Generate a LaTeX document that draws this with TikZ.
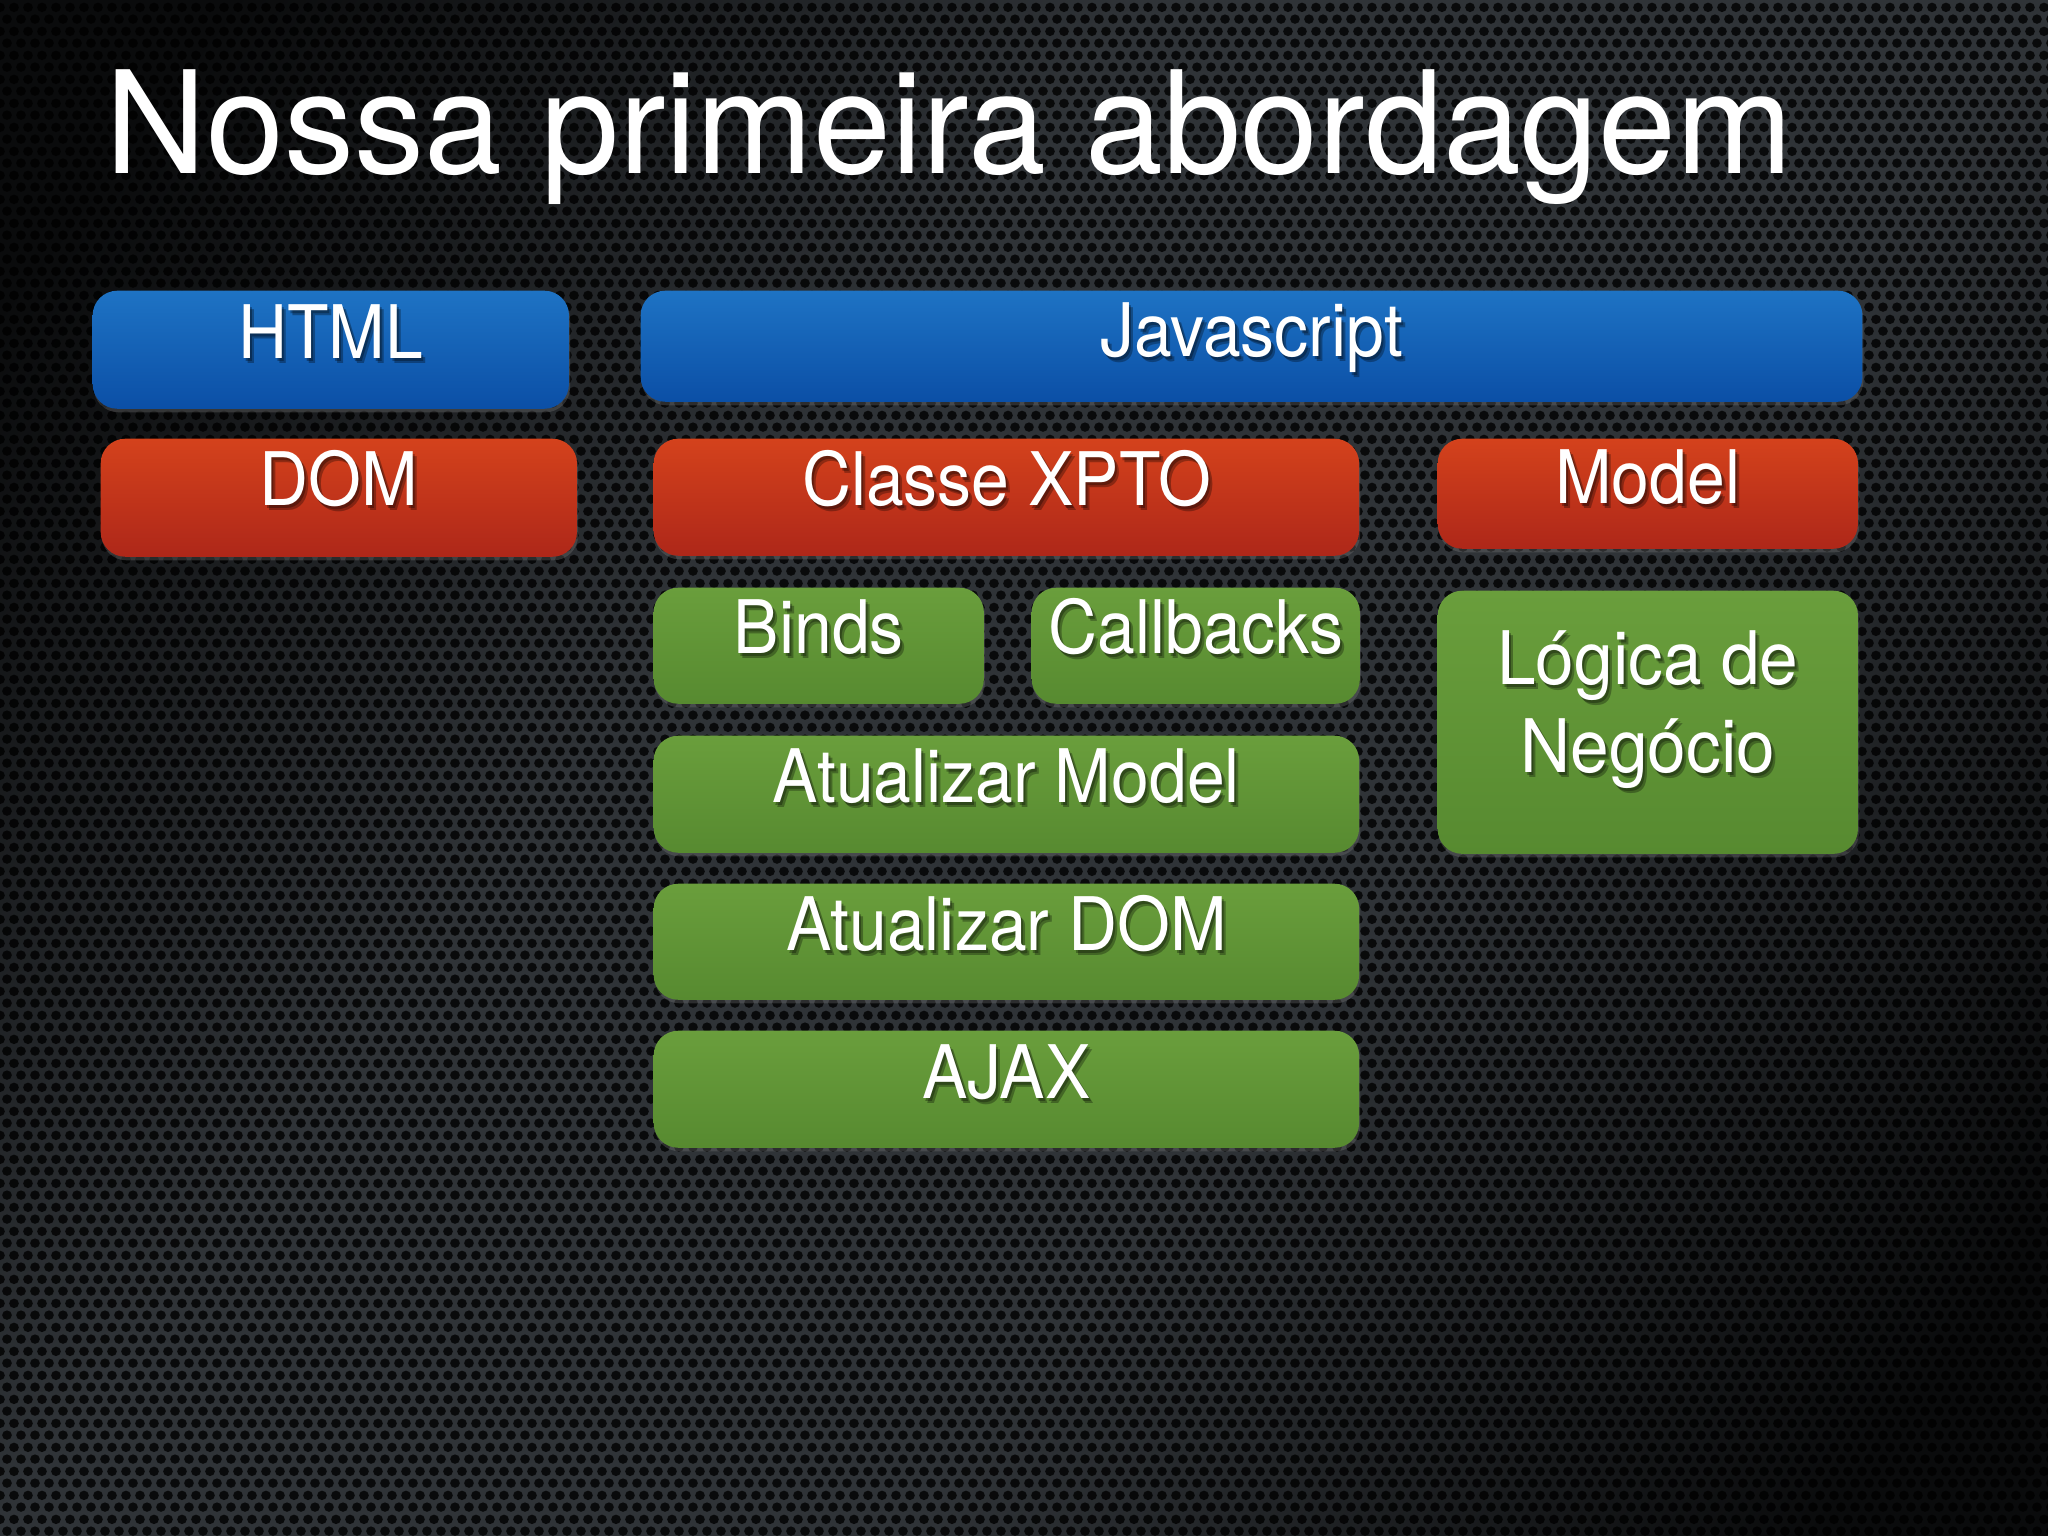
\documentclass[tikz,border=0pt]{standalone}
\usepackage{fontspec}
\setmainfont{TeX Gyre Heros}
\usetikzlibrary{calc,patterns,shadows}
\pgfdeclarepatternformonly{holes}{\pgfqpoint{0pt}{0pt}}{\pgfqpoint{3.98pt}{6.89pt}}{\pgfqpoint{3.98pt}{6.89pt}}{%
  \pgfpathcircle{\pgfqpoint{1.99pt}{1.72pt}}{1.38pt}%
  \pgfpathcircle{\pgfqpoint{0pt}{5.165pt}}{1.38pt}%
  \pgfpathcircle{\pgfqpoint{3.98pt}{5.165pt}}{1.38pt}%
  \pgfusepath{fill}%
}
\definecolor{blueT}{HTML}{1E73C4}
\definecolor{blueB}{HTML}{0B4FA6}
\definecolor{redT}{HTML}{D4421C}
\definecolor{redB}{HTML}{AE2719}
\definecolor{greenT}{HTML}{6A9E3C}
\definecolor{greenB}{HTML}{578A30}
\definecolor{bgMid}{HTML}{2F3337}
\definecolor{bgOut}{HTML}{0A0B0C}
\pgfdeclarehorizontalshading{bgshade}{100bp}{color(0bp)=(bgOut); color(20bp)=(bgOut); color(40bp)=(bgMid); color(60bp)=(bgMid); color(80bp)=(bgOut); color(100bp)=(bgOut)}
\tikzset{
  panel/.style={draw=none, rounded corners=7pt, anchor=north west, inner sep=0pt,
    drop shadow={opacity=0.3, shadow xshift=0.3pt, shadow yshift=-1pt}},
  bluep/.style={panel, top color=blueT, bottom color=blueB},
  redp/.style={panel, top color=redT, bottom color=redB},
  greenp/.style={panel, top color=greenT, bottom color=greenB},
  lbl/.style={text=white, inner sep=0pt, anchor=base, font=\fontsize{21}{25}\selectfont, align=center},
  lblsh/.style={lbl, text=black, text opacity=0.3},
}
\newcommand\boxlabel[4]{%
  \node[lblsh] (#1-s1) at ($(#2.north)+(2,{#3+3})$) {\scalebox{0.92}[1]{#4}};
  \node[lblsh] (#1-s2) at ($(#2.north)+(4,{#3+5})$) {\scalebox{0.92}[1]{#4}};
  \node[lbl] (#1) at ($(#2.north)+(0,#3)$) {\scalebox{0.92}[1]{#4}};
}
\begin{document}
\begin{tikzpicture}[x=0.01cm,y=-0.01cm]
\useasboundingbox (0,0) rectangle (2048,1536);
% background
\shade[shading=bgshade, shading angle=-37] (0,0) rectangle (2048,1536);
\fill[pattern=holes, pattern color=black, fill opacity=0.8] (0,0) rectangle (2048,1536);

% title
\node[anchor=base west, inner sep=0pt, text=white, font=\fontsize{40.5}{48}\selectfont] (title) at (105,173) {\scalebox{0.983}[1]{Nossa primeira abordagem}};

% panels
\node[bluep, minimum width=4.76cm, minimum height=1.18cm] (html) at (92,290) {};
\node[bluep, minimum width=12.21cm, minimum height=1.11cm] (js) at (640,290) {};
\node[redp, minimum width=4.76cm, minimum height=1.18cm] (dom) at (100,438) {};
\node[redp, minimum width=7.05cm, minimum height=1.17cm] (xpto) at (653,438) {};
\node[redp, minimum width=4.20cm, minimum height=1.10cm] (model) at (1437,438) {};
\node[greenp, minimum width=3.30cm, minimum height=1.16cm] (binds) at (653,587) {};
\node[greenp, minimum width=3.28cm, minimum height=1.16cm] (callbacks) at (1031,587) {};
\node[greenp, minimum width=4.20cm, minimum height=2.63cm] (logica) at (1437,590) {};
\node[greenp, minimum width=7.05cm, minimum height=1.17cm] (atmodel) at (653,735) {};
\node[greenp, minimum width=7.05cm, minimum height=1.16cm] (atdom) at (653,883) {};
\node[greenp, minimum width=7.05cm, minimum height=1.17cm] (ajax) at (653,1030) {};

% labels
\boxlabel{htmlT}{html}{68}{HTML}
\boxlabel{jsT}{js}{66}{Javascript}
\boxlabel{domT}{dom}{67}{DOM}
\boxlabel{xptoT}{xpto}{67}{Classe XPTO}
\boxlabel{modelT}{model}{65}{Model}
\boxlabel{bindsT}{binds}{66}{Binds}
\boxlabel{callbacksT}{callbacks}{66}{Callbacks}
\boxlabel{atmodelT}{atmodel}{67}{Atualizar Model}
\boxlabel{atdomT}{atdom}{67}{Atualizar DOM}
\boxlabel{ajaxT}{ajax}{68}{AJAX}
\node[lblsh] (logicaT-s1) at ($(logica.north)+(2,185)$) {\scalebox{0.94}[1]{Lógica de}\\\scalebox{0.94}[1]{Negócio}};
\node[lblsh] (logicaT-s2) at ($(logica.north)+(4,187)$) {\scalebox{0.94}[1]{Lógica de}\\\scalebox{0.94}[1]{Negócio}};
\node[lbl] (logicaT) at ($(logica.north)+(0,182)$) {\scalebox{0.94}[1]{Lógica de}\\\scalebox{0.94}[1]{Negócio}};
\end{tikzpicture}
\end{document}
